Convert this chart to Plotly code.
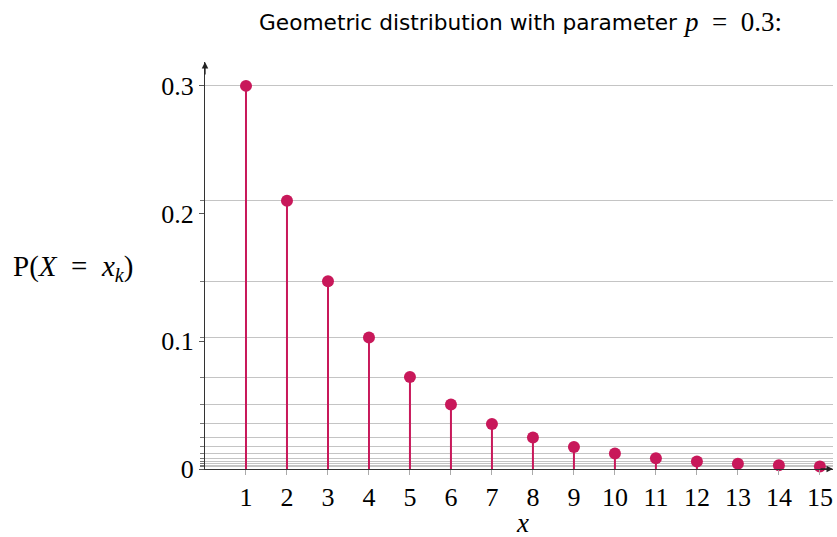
import plotly.graph_objects as go

k_values = list(range(1, 16))
probabilities = [0.3, 0.21, 0.147, 0.1029, 0.07203, 0.050421, 0.0352947,
                 0.02470629, 0.01729440, 0.01210608, 0.00847426, 0.00593198,
                 0.00415239, 0.00290667, 0.00203467]
y_major_ticks = [0, 0.1, 0.2, 0.3]
y_major_labels = ["0", "0.1", "0.2", "0.3"]

RED = "#C8185A"
SERIF = "Liberation Serif, DejaVu Serif, serif"
SANS = "DejaVu Sans, Liberation Sans, sans-serif"
SP = " \u00a0"

fig = go.Figure()
fig.add_trace(go.Scatter(
    x=k_values, y=probabilities, mode="markers",
    marker=dict(size=12, color=RED),
    error_y=dict(type="data", symmetric=False,
                 array=[0] * len(probabilities), arrayminus=probabilities,
                 color=RED, thickness=2, width=0),
    cliponaxis=False, showlegend=False, hoverinfo="x+y",
))

fig.update_layout(
    width=837, height=537,
    margin=dict(l=205, r=4, t=62, b=68),
    plot_bgcolor="white", paper_bgcolor="white",
    xaxis=dict(
        range=[0, 15.32], tickmode="array", tickvals=k_values,
        ticktext=[str(k) for k in k_values],
        showgrid=False, zeroline=False,
        showline=True, linecolor="#333333", linewidth=1.3,
        ticks="outside", ticklen=5, tickcolor="#aaaaaa", tickwidth=1,
        tickfont=dict(family=SERIF, size=26, color="black"),
        fixedrange=True,
    ),
    yaxis=dict(
        range=[0, 0.3187], tickmode="array", tickvals=y_major_ticks,
        ticktext=y_major_labels,
        showgrid=False, zeroline=False,
        showline=True, linecolor="#333333", linewidth=1.3,
        ticks="outside", ticklen=5, tickcolor="#555555", tickwidth=1,
        tickfont=dict(family=SERIF, size=26, color="black"),
        minor=dict(tickmode="array", tickvals=probabilities, showgrid=True,
                   gridcolor="#c4c4c4", gridwidth=1,
                   ticks="outside", ticklen=4, tickcolor="#777777"),
        fixedrange=True,
    ),
)

# title (sans text + serif math part)
title_y = 1 + (62 - 22) / 407
fig.add_annotation(x=(679 - 205) / 628, y=title_y, xref="paper", yref="paper",
                   text="Geometric distribution with parameter", showarrow=False,
                   xanchor="right", yanchor="middle",
                   font=dict(family=SANS, size=21.7, color="black"))
fig.add_annotation(x=(681 - 205) / 628, y=title_y, xref="paper", yref="paper",
                   text="<i>p</i>" + SP + "=" + SP + "0.3:", showarrow=False,
                   xanchor="left", yanchor="middle",
                   font=dict(family=SERIF, size=27, color="black"))

# axis arrows
fig.add_annotation(x=0, y=1.0, xref="paper", yref="paper", ax=0, ay=14,
                   showarrow=True, arrowhead=2, arrowsize=1, arrowwidth=1.3,
                   arrowcolor="#222222", text="")
fig.add_annotation(x=1.0, y=0, xref="paper", yref="paper", ax=-14, ay=0,
                   showarrow=True, arrowhead=2, arrowsize=1, arrowwidth=1.3,
                   arrowcolor="#222222", text="")

# axis titles
fig.add_annotation(x=-0.21, y=(469 - 268) / 407, xref="paper", yref="paper",
                   text="P(<i>X</i>" + SP + "=" + SP + "<i>x</i><sub><i>k</i></sub>)",
                   showarrow=False, xanchor="center", yanchor="middle",
                   font=dict(family=SERIF, size=29, color="black"))
fig.add_annotation(x=(522 - 205) / 628, y=-(523 - 469) / 407, xref="paper", yref="paper",
                   text="<i>x</i>", showarrow=False,
                   xanchor="center", yanchor="middle",
                   font=dict(family=SERIF, size=27, color="black"))

fig.write_html("out.html")
